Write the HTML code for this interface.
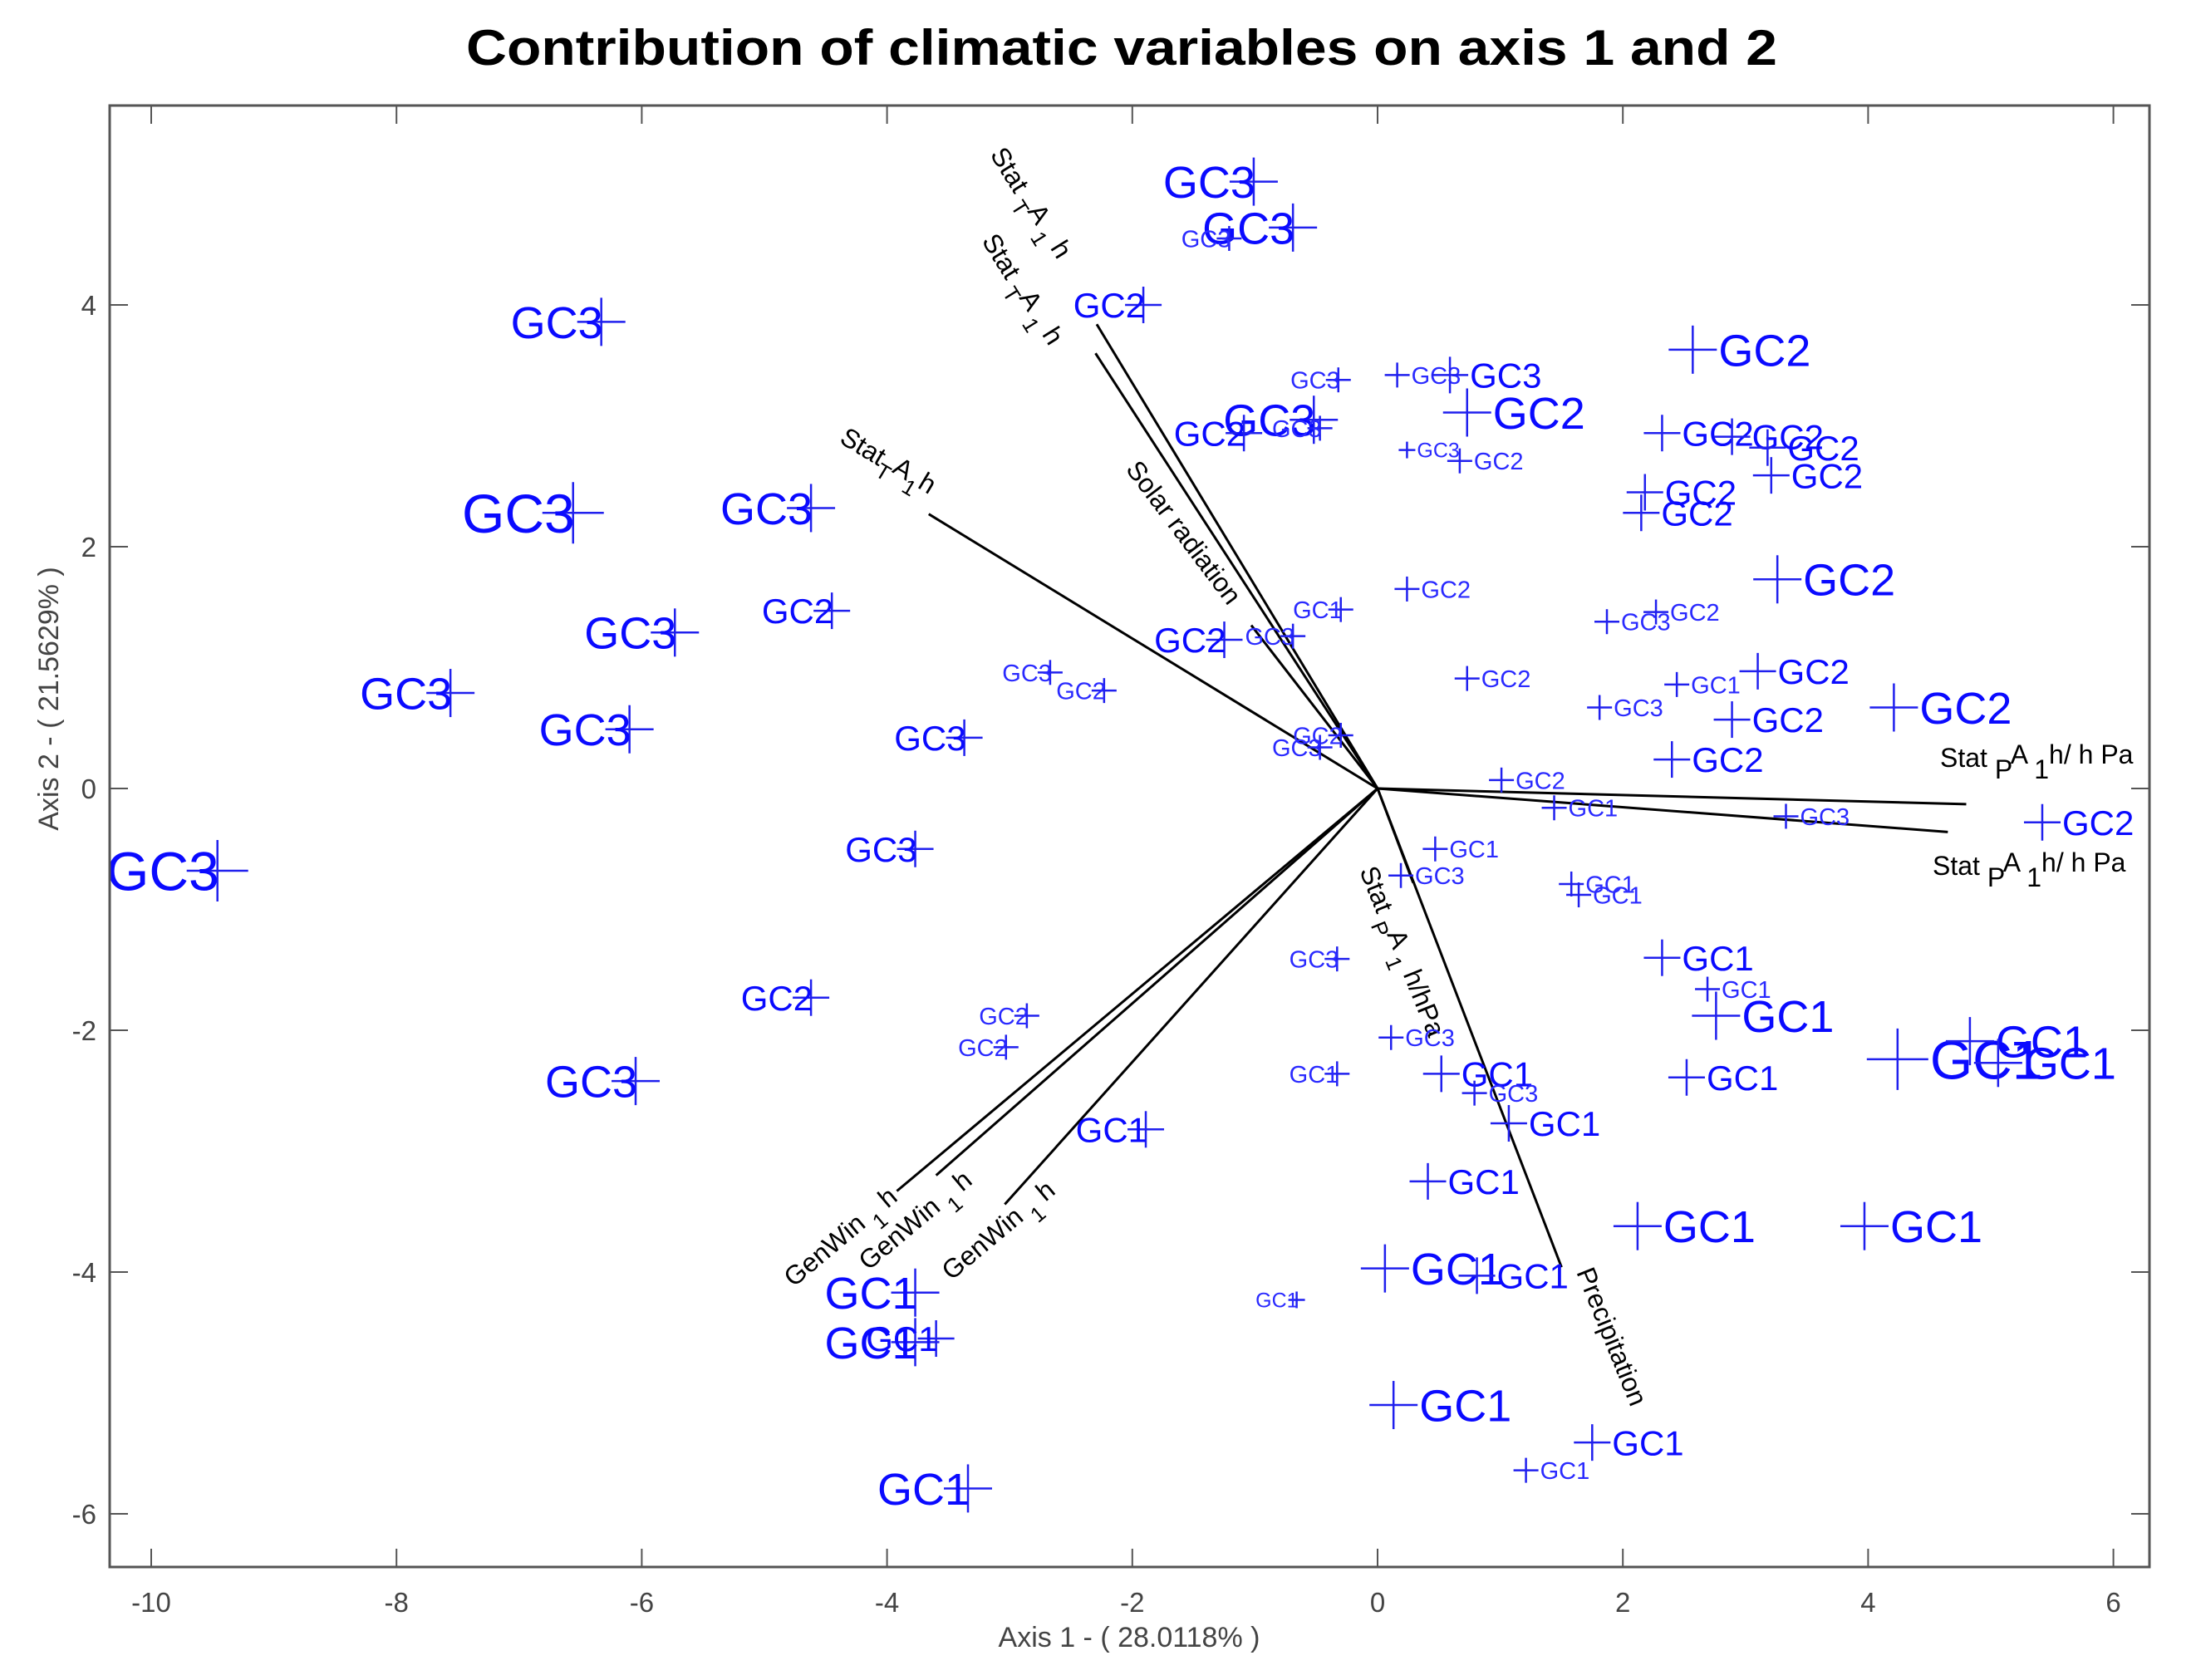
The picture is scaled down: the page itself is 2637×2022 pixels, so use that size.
<!DOCTYPE html>
<html><head><meta charset="utf-8"><style>
html,body{margin:0;padding:0;background:#fff}
svg{display:block}
text{font-family:"Liberation Sans",sans-serif}
</style></head><body>
<svg id="chart" width="2637" height="2022" viewBox="0 0 2637 2022" xmlns="http://www.w3.org/2000/svg">
<rect x="0" y="0" width="2637" height="2022" fill="#fff"/>
<text x="1350" y="78" text-anchor="middle" font-size="60" font-weight="bold" textLength="1578" lengthAdjust="spacingAndGlyphs" fill="#000">Contribution of climatic variables on axis 1 and 2</text>
<g id="ticks"></g>
<g id="vectors"></g>
<g id="points"></g>
<rect x="132" y="127" width="2455" height="1759" fill="none" stroke="#555" stroke-width="3"/>
<text x="1359" y="1982" text-anchor="middle" font-size="34" fill="#444">Axis 1 - ( 28.0118% )</text>
<text x="0" y="0" transform="translate(70,841) rotate(-90)" text-anchor="middle" font-size="34" fill="#444">Axis 2 - ( 21.5629% )</text>
</svg>
<script>
const xTicks = [-10,-8,-6,-4,-2,0,2,4,6];
const yTicks = [-6,-4,-2,0,2,4];
const ptX = [-1.01,-0.69,-1.21,-1.91,-6.33,2.57,-6.56,-4.62,-4.45,-5.73,-7.56,-6.10,-9.46,5.42,-4.62,-6.05,-1.89,-3.77,-3.77,-3.60,-3.34,1.21,1.75,0.13,0.06,0.81,-0.66,2.12,3.97,0.41,1.07,0.52,0.79,-0.33,0.11,-0.33,0.19,0.47,1.44,1.01,1.58,1.64,2.32,2.69,2.76,2.52,4.24,4.83,5.06,3.33,2.40,2.89,2.44,3.10,4.21,3.26,1.81,0.73,1.87,2.27,0.24,2.18,2.15,2.32,2.89,3.18,3.21,0.73,0.67,0.24,0.16,0.59,-0.32,-0.52,-0.47,-1.09,-0.30,-0.69,-1.25,-0.30,-0.47,-3.37,-3.77,-2.67,-2.23,-2.86,-3.03];
const ptY = [5.02,4.64,4.55,4.00,3.86,3.63,2.28,2.32,1.47,1.29,0.79,0.49,-0.68,-0.28,-1.73,-2.42,-2.82,-4.17,-4.58,-4.55,-5.79,-5.64,-5.41,-5.10,-3.97,-4.03,-4.23,-3.62,-3.62,-3.25,-2.77,-2.36,-2.52,-2.36,-2.06,-1.41,-0.72,-0.50,-0.16,0.07,-0.79,-0.88,-1.40,-1.66,-1.88,-2.39,-2.24,-2.09,-2.27,-0.23,0.24,0.57,0.86,0.97,0.67,1.73,0.67,0.91,1.38,1.46,1.65,2.45,2.28,2.94,2.91,2.82,2.59,3.11,2.71,2.80,3.42,3.42,3.38,3.05,2.98,2.94,1.48,1.26,1.23,0.44,0.34,0.42,-0.50,0.96,0.81,-1.88,-2.14];
const ptLabel = ["GC3","GC3","GC3","GC2","GC3","GC2","GC3","GC3","GC2","GC3","GC3","GC3","GC3","GC2","GC2","GC3","GC1","GC1","GC1","GC1","GC1","GC1","GC1","GC1","GC1","GC1","GC1","GC1","GC1","GC1","GC1","GC1","GC3","GC1","GC3","GC3","GC3","GC1","GC1","GC2","GC1","GC1","GC1","GC1","GC1","GC1","GC1","GC1","GC1","GC3","GC2","GC2","GC1","GC2","GC2","GC2","GC3","GC2","GC3","GC2","GC2","GC2","GC2","GC2","GC2","GC2","GC2","GC2","GC2","GC3","GC3","GC3","GC3","GC3","GC3","GC2","GC1","GC3","GC2","GC2","GC3","GC3","GC3","GC3","GC2","GC2","GC2"];
const ptSide = "LLLLLRLLLLLLLRLLLLLLLRRRRRLRRRRRRLRLRRRRRRRRRRRRRRRRRRRRRRRRRRRRRRRRRRRRLLLLLLLLLLLLLLL";
const ptWeight = [4,4,2,3,4,4,5,4,3,4,4,4,5,3,3,4,3,4,4,3,4,2,3,4,4,3,1,4,4,3,3,3,2,2,2,2,2,2,2,2,2,2,3,2,4,3,5,4,4,2,3,3,2,3,4,4,2,2,2,2,2,3,3,3,3,3,3,4,2,1,2,3,2,4,2,3,2,2,3,2,2,3,3,2,2,2,2];
const vecX = [-2.29,-2.30,-1.03,-3.66,4.80,4.65,0.29,1.50,-3.92,-3.60,-3.04];
const vecY = [3.84,3.60,1.35,2.27,-0.13,-0.36,-0.78,-3.96,-3.33,-3.20,-3.44];

const X0=1658, XS=147.6, Y0=949, YS=145.5;
const sx = v => X0 + v*XS;
const sy = v => Y0 - v*YS;
const NS="http://www.w3.org/2000/svg";
function mk(tag, attrs, parent){const e=document.createElementNS(NS,tag);for(const k in attrs)e.setAttribute(k,attrs[k]);parent.appendChild(e);return e;}
const fontBy=[0,25,29,42,54,66], halfBy=[0,10,15,22,29,37];

const tg=document.getElementById('ticks');
xTicks.forEach(t=>{
  const x=sx(t);
  const l1=mk('line',{x1:x,y1:1886,x2:x,y2:1864,stroke:'#555','stroke-width':2},tg);
  
  
  const l2=mk('line',{x1:x,y1:127,x2:x,y2:149,stroke:'#555','stroke-width':2},tg);
  
  
  const tx=mk('text',{x:x,y:1940,'text-anchor':'middle','font-size':33,fill:'#444'},tg);
  tx.textContent=t;
  
  
});
yTicks.forEach(t=>{
  const y=sy(t);
  const l1=mk('line',{x1:132,y1:y,x2:154,y2:y,stroke:'#555','stroke-width':2},tg);
  
  
  const l2=mk('line',{x1:2587,y1:y,x2:2565,y2:y,stroke:'#555','stroke-width':2},tg);
  
  
  const tx=mk('text',{x:116,y:y+12,'text-anchor':'end','font-size':33,fill:'#444'},tg);
  tx.textContent=t;
  
  
});

const vg=document.getElementById('vectors');
for(let i=0;i<vecX.length;i++){
  const l=mk('line',{x1:X0,y1:Y0,x2:sx(vecX[i]),y2:sy(vecY[i]),stroke:'#000','stroke-width':3},vg);
  
  
}
function vlabel(x,y,ang,parts,name,fs){
  const t=mk('text',{x:0,y:0,transform:`translate(${x},${y}) rotate(${ang})`,'font-size':fs||32,fill:'#000'},vg);
  
  
  parts.forEach(p=>{const s=mk('tspan',{dy:p[1]||0},t);if(p[2])s.setAttribute('font-size',p[2]);s.textContent=p[0];});
}
vlabel(1191,186,58,[["Stat "],["T",12,26],["A",-14],[" 1",14,26],[" h",-14]],'stat-t-label-1');
vlabel(1181,290,58,[["Stat "],["T",12,26],["A",-14],[" 1",14,26],[" h",-14]],'stat-t-label-2');
vlabel(1009,532,31,[["Stat"],["T",12,26],["A",-14],["1",14,26],["h",-14]],'stat-t-label-3');
vlabel(1354,565,53,[["Solar radiation"]],'solar-radiation-label');
vlabel(1636,1048,68,[["Stat "],["P",12,26],["A",-14],[" 1",14,26],[" h/hPa",-14]],'stat-p-label-3');
vlabel(1897,1531,68,[["Precipitation"]],'precipitation-label');
vlabel(2335,923,0,[["Stat  "],["P",14],["A",-18],[" 1",18],["h/ h Pa",-18]],'stat-p-label-1');
vlabel(2326,1053,0,[["Stat  "],["P",14],["A",-18],[" 1",18],["h/ h Pa",-18]],'stat-p-label-2');
vlabel(955,1550,-40,[["GenWin "],["1",14,26],[" h",-14]],'genwin-label-1');
vlabel(1045,1530,-40,[["GenWin "],["1",14,26],[" h",-14]],'genwin-label-2');
vlabel(1145,1542,-40,[["GenWin "],["1",14,26],[" h",-14]],'genwin-label-3');

const pg=document.getElementById('points');
for(let i=0;i<ptX.length;i++){
  const cx=sx(ptX[i]), cy=sy(ptY[i]), w=ptWeight[i], h=halfBy[w], f=fontBy[w];
  const g=mk('g',{},pg);
  
  
  mk('line',{x1:cx-h,y1:cy,x2:cx+h,y2:cy,stroke:'#2020ee','stroke-width':2.5},g);
  mk('line',{x1:cx,y1:cy-h,x2:cx,y2:cy+h,stroke:'#2020ee','stroke-width':2.5},g);
  const left=ptSide[i]==='L';
  const t=mk('text',{x:left?cx+2:cx+h+2,y:cy+f*0.36,'text-anchor':left?'end':'start','font-size':f,fill:w<=2?'#2a2aff':'#0a0aff'},g);
  t.textContent=ptLabel[i];
}
</script>
</body></html>
